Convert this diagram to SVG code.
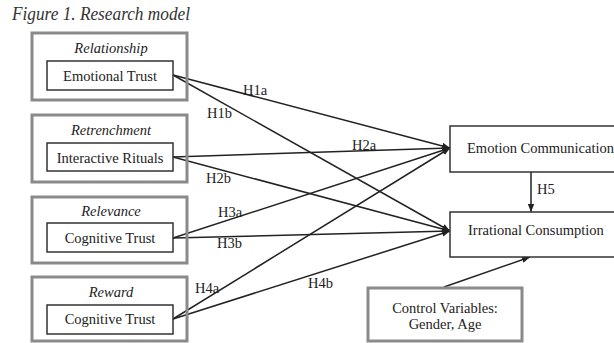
<svg xmlns="http://www.w3.org/2000/svg" width="614" height="343" viewBox="0 0 614 343" font-family="'Liberation Serif', 'DejaVu Serif', 'Times New Roman', serif">
<style>
text{font-family:'Liberation Serif','DejaVu Serif','Times New Roman',serif;fill:#222;font-size:14.5px}
.it{font-style:italic}
.c{text-anchor:middle}
.title{font-size:18px;fill:#333}
.outer{fill:none;stroke:#8a8a8a;stroke-width:3}
.inner{fill:#fff;stroke:#333;stroke-width:1.5}
.node{fill:#fff;stroke:#333;stroke-width:1.5}
.ln{stroke:#222;stroke-width:1.5;fill:none}
.arr{marker-end:url(#ah)}
</style>
<defs>
<marker id="ah" markerUnits="userSpaceOnUse" markerWidth="8" markerHeight="8" viewBox="0 0 8 8" refX="8" refY="4" orient="auto">
<path d="M0,0.8 L8,4 L0,7.2 Z" fill="#222"/>
</marker>
</defs>
<rect width="614" height="343" fill="#fff"/>
<text class="it title" x="12" y="20" textLength="178" lengthAdjust="spacingAndGlyphs">Figure 1. Research model</text>

<g id="connectors">
<line class="ln arr" x1="173" y1="75" x2="450" y2="148"/>
<line class="ln arr" x1="173" y1="75" x2="450" y2="231"/>
<line class="ln arr" x1="173" y1="157" x2="450" y2="148"/>
<line class="ln arr" x1="173" y1="157" x2="450" y2="231"/>
<line class="ln arr" x1="173" y1="238" x2="450" y2="148"/>
<line class="ln arr" x1="173" y1="238" x2="450" y2="231"/>
<line class="ln arr" x1="173" y1="319" x2="450" y2="148"/>
<line class="ln arr" x1="173" y1="319" x2="450" y2="231"/>
<line class="ln arr" x1="531" y1="172" x2="531" y2="212"/>
<line class="ln arr" x1="444" y1="287" x2="530" y2="257"/>
<text x="243" y="95">H1a</text>
<text x="207" y="118">H1b</text>
<text x="352" y="150">H2a</text>
<text x="206" y="183">H2b</text>
<text x="218" y="217">H3a</text>
<text x="217" y="248">H3b</text>
<text x="195" y="293">H4a</text>
<text x="308" y="288">H4b</text>
<text x="537" y="194">H5</text>
</g>

<g id="relationship">
<rect class="outer" x="32" y="33" width="155" height="67"/>
<text class="it c" x="111" y="53">Relationship</text>
<rect class="inner" x="47" y="61" width="126" height="29"/>
<text class="c" x="110" y="81">Emotional Trust</text>
</g>
<g id="retrenchment">
<rect class="outer" x="32" y="115" width="155" height="67"/>
<text class="it c" x="111" y="135">Retrenchment</text>
<rect class="inner" x="47" y="143" width="126" height="28"/>
<text class="c" x="110" y="163">Interactive Rituals</text>
</g>
<g id="relevance">
<rect class="outer" x="32" y="197" width="155" height="66"/>
<text class="it c" x="111" y="216">Relevance</text>
<rect class="inner" x="47" y="223" width="126" height="29"/>
<text class="c" x="110" y="243">Cognitive Trust</text>
</g>
<g id="reward">
<rect class="outer" x="32" y="277" width="155" height="64"/>
<text class="it c" x="111" y="297">Reward</text>
<rect class="inner" x="47" y="305" width="126" height="29"/>
<text class="c" x="110" y="324">Cognitive Trust</text>
</g>
<g id="emotion-communication">
<rect class="node" x="450" y="126" width="180" height="46"/>
<text x="467" y="153">Emotion Communication</text>
</g>
<g id="irrational-consumption">
<rect class="node" x="450" y="212" width="180" height="45"/>
<text x="468" y="235">Irrational Consumption</text>
</g>
<g id="control-variables">
<rect class="outer" x="368" y="288" width="154" height="53"/>
<text class="c" x="445" y="313">Control Variables:</text>
<text class="c" x="445" y="329">Gender, Age</text>
</g>
</svg>
